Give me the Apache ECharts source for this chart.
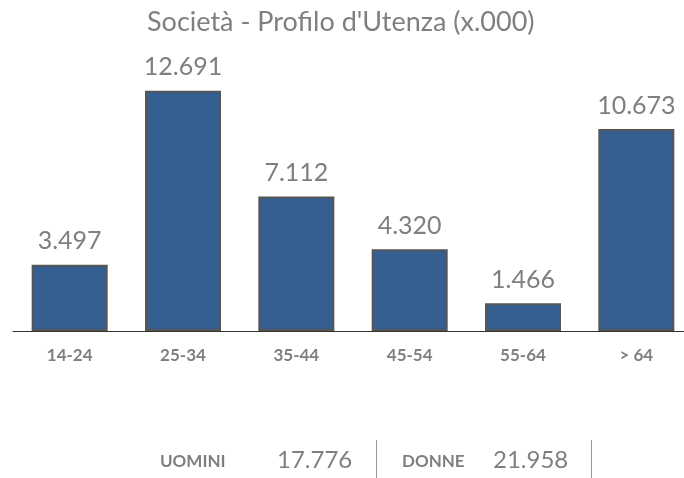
<!DOCTYPE html>
<html>
<head>
<meta charset="utf-8">
<script src="https://cdn.jsdelivr.net/npm/echarts@6/dist/echarts.min.js"></script>
<style>
  html, body { margin: 0; padding: 0; background: #fff; overflow: hidden; }
  #chart { width: 700px; height: 478px; }
</style>
</head>
<body>
<div id="chart"></div>
<script>
// dati
var fasce = ['14-24', '25-34', '35-44', '45-54', '55-64', '> 64'];
var utenti = [3497, 12691, 7112, 4320, 1466, 10673];
var generi = ['UOMINI', 'DONNE'];
var totaliGenere = [17776, 21958];

var grigio = '#7f7f7f';
var font = 'Lato';

// 12691 -> 12.691
function fmt(v) {
    return String(v).replace(/\B(?=(\d{3})+(?!\d))/g, '.');
}

var myChart = echarts.init(document.getElementById('chart'));
var option = {
    animation: false,
    title: {
        text: 'Società - Profilo d\'Utenza (x.000)',
        left: 142,
        top: 4,
        textStyle: { color: grigio, fontFamily: font, fontSize: 27, fontWeight: 'normal' }
    },
    grid: {
        left: 13,
        top: 66,
        width: 680,
        height: 265
    },
    xAxis: {
        type: 'category',
        data: fasce,
        axisLine: { lineStyle: { color: '#333', width: 1 } },
        axisTick: { show: false },
        axisLabel: { color: grigio, fontFamily: font, fontSize: 17, fontWeight: 'bold', margin: 16 }
    },
    yAxis: {
        type: 'value',
        min: 0,
        max: 14000,
        show: false
    },
    series: [
        {
            type: 'bar',
            data: utenti,
            barWidth: 76,
            itemStyle: { color: '#365f91', borderColor: '#555', borderWidth: 2 },
            label: {
                show: true,
                position: 'top',
                distance: 11,
                color: grigio,
                fontFamily: font,
                fontSize: 25,
                formatter: function (p) { return fmt(p.value); }
            }
        }
    ],
    graphic: [
        { type: 'text', left: 160, top: 453, style: { text: generi[0], fill: grigio, font: 'bold 17px ' + font } },
        { type: 'text', left: 277, top: 448, style: { text: fmt(totaliGenere[0]), fill: grigio, font: '24px ' + font } },
        { type: 'line', shape: { x1: 376.5, y1: 440, x2: 376.5, y2: 478 }, style: { stroke: '#999', lineWidth: 1 } },
        { type: 'text', left: 402, top: 453, style: { text: generi[1], fill: grigio, font: 'bold 17px ' + font } },
        { type: 'text', left: 493, top: 448, style: { text: fmt(totaliGenere[1]), fill: grigio, font: '24px ' + font } },
        { type: 'line', shape: { x1: 591.5, y1: 440, x2: 591.5, y2: 478 }, style: { stroke: '#999', lineWidth: 1 } }
    ]
};
myChart.setOption(option);
</script>
</body>
</html>
